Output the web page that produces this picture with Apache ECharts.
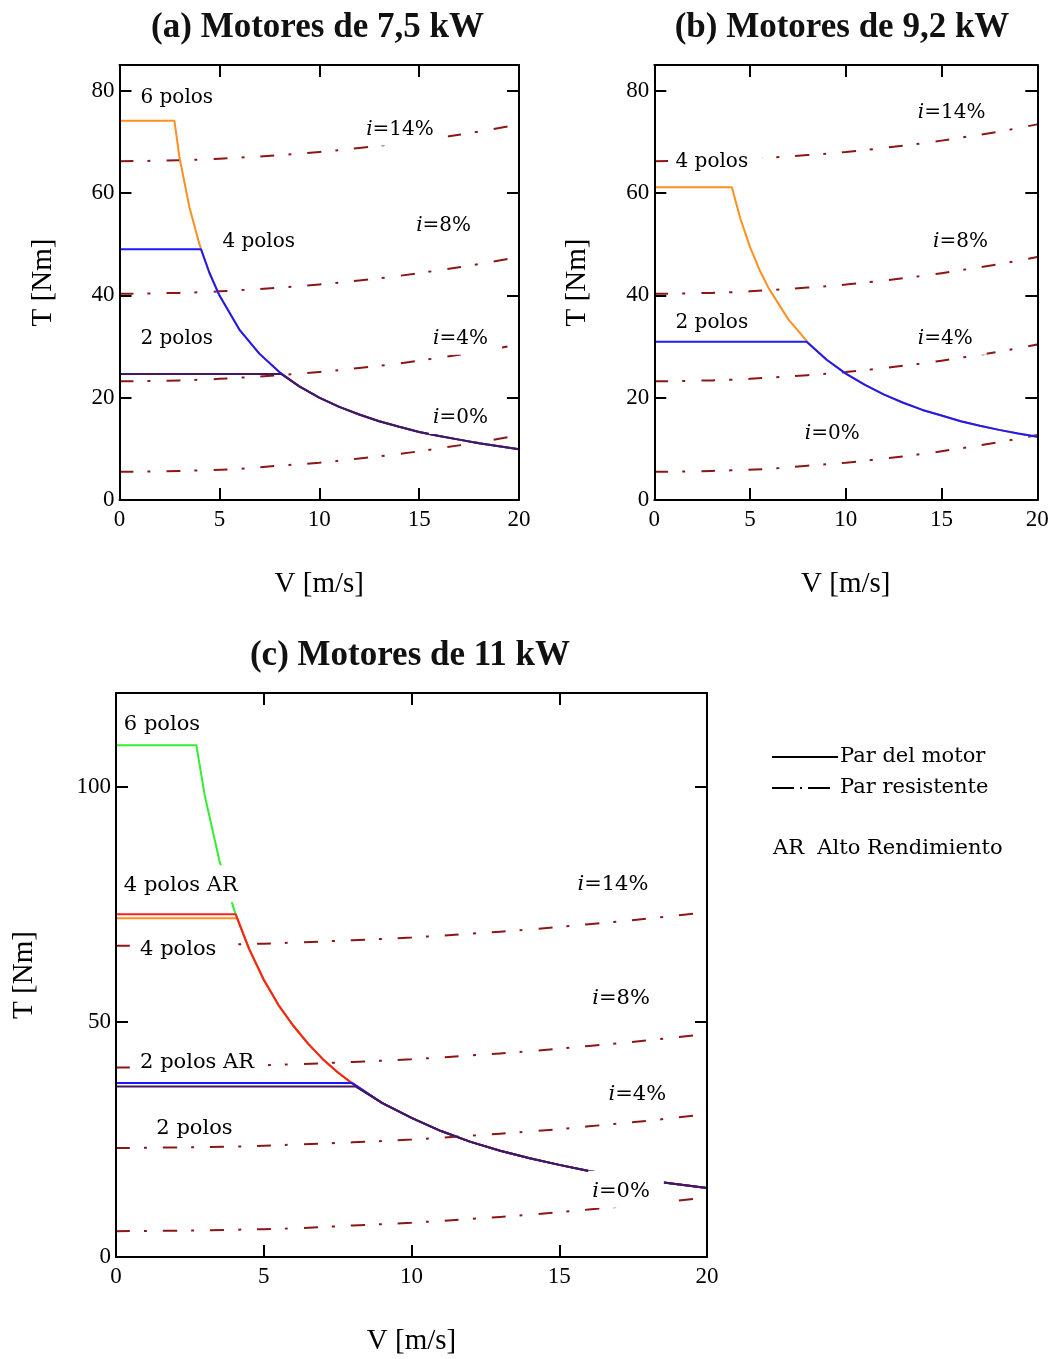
<!DOCTYPE html>
<html><head><meta charset="utf-8">
<script src="https://cdn.jsdelivr.net/npm/echarts@6/dist/echarts.min.js"></script>
<style>html,body{margin:0;padding:0;background:#fff}#c{width:1059px;height:1359px}</style>
</head><body><div id="c"></div>
<script>
// ---------- Resistive torque (Par resistente), same in all panels ----------
const resV   = [0, 2, 4, 6, 8, 10, 12, 14, 16, 18, 20];
const res0   = [5.5, 5.6, 5.8, 6.1, 6.7, 7.3, 8.1, 9.0, 10.1, 11.3, 12.7];
const res4   = [23.2, 23.3, 23.5, 23.9, 24.4, 25.0, 25.8, 26.7, 27.8, 29.0, 30.4];
const res8   = [40.3, 40.4, 40.6, 41.0, 41.5, 42.1, 42.9, 43.8, 44.9, 46.1, 47.5];
const res14  = [66.2, 66.3, 66.5, 66.9, 67.4, 68.0, 68.8, 69.7, 70.8, 72.0, 73.4];

// ---------- (a) 7,5 kW motors ----------
const a6V = [0, 2.75, 3, 3.5, 4, 4.5, 5, 6, 7, 8, 9, 10, 11, 12, 13, 14, 15, 16, 17, 18, 19, 20];
const a6T = [74.1, 74.1, 67, 57.2, 50, 44.4, 40, 33.3, 28.6, 25, 22.2, 20, 18.2, 16.7, 15.4, 14.3, 13.3, 12.5, 11.8, 11.1, 10.5, 9.9];
const a4V = [0, 4.08, 4.5, 5, 6, 7, 8, 9, 10, 11, 12, 13, 14, 15, 16, 17, 18, 19, 20];
const a4T = [49, 49, 44.4, 40, 33.3, 28.6, 25, 22.2, 20, 18.2, 16.7, 15.4, 14.3, 13.3, 12.5, 11.8, 11.1, 10.5, 9.9];
const a2V = [0, 8.1, 9, 10, 11, 12, 13, 14, 15, 16, 17, 18, 19, 20];
const a2T = [24.6, 24.6, 22.2, 20, 18.2, 16.7, 15.4, 14.3, 13.3, 12.5, 11.8, 11.1, 10.5, 9.9];

// ---------- (b) 9,2 kW motors ----------
const b4V = [0, 4.05, 4.5, 5, 5.5, 6, 7, 8, 9, 10, 11, 12, 13, 14, 15, 16, 17, 18, 19, 20];
const b4T = [61.1, 61.1, 54.9, 49.4, 44.9, 41.2, 35.3, 30.9, 27.4, 24.7, 22.5, 20.6, 19, 17.6, 16.5, 15.4, 14.5, 13.7, 13, 12.35];
const b2V = [0, 7.95, 9, 10, 11, 12, 13, 14, 15, 16, 17, 18, 19, 20];
const b2T = [30.9, 30.9, 27.4, 24.7, 22.5, 20.6, 19, 17.6, 16.5, 15.4, 14.5, 13.7, 13, 12.35];

// ---------- (c) 11 kW motors ----------
const c6V   = [0, 2.72, 3, 3.5, 4, 4.5, 5, 5.5, 6, 6.5, 7, 7.5, 8, 9, 10, 11, 12, 13, 14, 15, 16, 17, 18, 19, 20];
const c6T   = [108.9, 108.9, 98.3, 84.3, 73.8, 65.6, 59, 53.6, 49.2, 45.4, 42.1, 39.3, 36.9, 32.8, 29.6, 26.8, 24.5, 22.6, 21, 19.6, 18.3, 17.3, 16.3, 15.5, 14.7];
const c4arV = [0, 4.05, 4.5, 5, 5.5, 6, 6.5, 7, 7.5, 8, 9, 10, 11, 12, 13, 14, 15, 16, 17, 18, 19, 20];
const c4arT = [72.9, 72.9, 65.6, 59, 53.6, 49.2, 45.4, 42.1, 39.3, 36.9, 32.8, 29.6, 26.8, 24.5, 22.6, 21, 19.6, 18.3, 17.3, 16.3, 15.5, 14.7];
const c4V   = [0, 4.1, 4.5, 5, 5.5, 6, 6.5, 7, 7.5, 8, 9, 10, 11, 12, 13, 14, 15, 16, 17, 18, 19, 20];
const c4T   = [72.1, 72.1, 65.6, 59, 53.6, 49.2, 45.4, 42.1, 39.3, 36.9, 32.8, 29.6, 26.8, 24.5, 22.6, 21, 19.6, 18.3, 17.3, 16.3, 15.5, 14.7];
const c2arV = [0, 8.0, 9, 10, 11, 12, 13, 14, 15, 16, 17, 18, 19, 20];
const c2arT = [37, 37, 32.8, 29.6, 26.8, 24.5, 22.6, 21, 19.6, 18.3, 17.3, 16.3, 15.5, 14.7];
const c2V   = [0, 8.1, 9, 10, 11, 12, 13, 14, 15, 16, 17, 18, 19, 20];
const c2T   = [36.3, 36.3, 32.8, 29.6, 26.8, 24.5, 22.6, 21, 19.6, 18.3, 17.3, 16.3, 15.5, 14.7];

// ---------- Annotations (text, anchor V, anchor T) ----------
const labA = ['6 polos', '4 polos', '2 polos', 'i=14%', 'i=8%', 'i=4%', 'i=0%'];
const labAV = [0.85, 4.95, 0.85, 12.15, 14.65, 15.5, 15.5];
const labAT = [78.9, 50.8, 31.9, 72.8, 53.9, 31.9, 16.4];
const labB = ['i=14%', '4 polos', 'i=8%', '2 polos', 'i=4%', 'i=0%'];
const labBV = [13.55, 0.9, 14.35, 0.9, 13.55, 7.65];
const labBT = [76.0, 66.4, 50.8, 35.1, 31.9, 13.3];
const labC = ['6 polos', '4 polos AR', '4 polos', '2 polos AR', '2 polos', 'i=14%', 'i=8%', 'i=4%', 'i=0%'];
const labCV = [0.13, 0.13, 0.68, 0.68, 1.23, 15.48, 15.98, 16.53, 15.98];
const labCT = [113.7, 79.4, 65.8, 41.7, 27.8, 79.6, 55.5, 35.0, 14.4];

const titles = ['(a) Motores de 7,5 kW', '(b) Motores de 9,2 kW', '(c) Motores de 11 kW'];
const yMax = [85, 85, 120];
const yStep = [20, 20, 50];

// ---------- styles ----------
const serif = '"Liberation Serif", "Times New Roman", serif';
const lblFont = '"DejaVu Serif", serif';
const C_OR = '#ff8f1f', C_BL = '#1a1aff', C_PU = '#43195e', C_GR = '#33ee33', C_RD = '#ff2020', C_RES = '#8c1616';

function pairs(xs, ys) { return xs.map((x, i) => [x, ys[i]]); }

const grids = [
  { left: 119.5, top: 65, width: 399.5, height: 435 },
  { left: 654.3, top: 65, width: 383, height: 435 },
  { left: 116, top: 693, width: 591, height: 564 }
];

const xAxes = [], yAxes = [];
grids.forEach((g, gi) => {
  ['bottom', 'top'].forEach(pos => {
    const main = pos === 'bottom';
    xAxes.push({
      type: 'value', gridIndex: gi, position: pos, min: 0, max: 20, interval: 5, z: 5,
      axisLine: { show: true, onZero: false, lineStyle: { color: '#000', width: 2 } },
      axisTick: { show: true, inside: true, length: 12, lineStyle: { color: '#000', width: 2 } },
      axisLabel: { show: main, margin: 8, color: '#000', fontFamily: serif, fontSize: 23 },
      splitLine: { show: false },
      name: main ? 'V [m/s]' : '', nameLocation: 'middle', nameGap: 70,
      nameTextStyle: { fontFamily: serif, fontSize: 29, color: '#000' }
    });
  });
  ['left', 'right'].forEach(pos => {
    const main = pos === 'left';
    yAxes.push({
      type: 'value', gridIndex: gi, position: pos, min: 0, max: yMax[gi], interval: yStep[gi], z: 5,
      axisLine: { show: true, onZero: false, lineStyle: { color: '#000', width: 2 } },
      axisTick: { show: true, inside: true, length: 12, lineStyle: { color: '#000', width: 2 } },
      axisLabel: { show: main, margin: 5, color: '#000', fontFamily: serif, fontSize: 23,
        formatter: v => (v % yStep[gi] === 0 ? String(v) : '') },
      splitLine: { show: false },
      name: main ? 'T [Nm]' : '', nameLocation: 'middle', nameGap: gi === 2 ? 77 : 62,
      nameTextStyle: { fontFamily: serif, fontSize: 29, color: '#000' }
    });
  });
});

const series = [];
function motor(gi, xs, ys, color, name) {
  series.push({ type: 'line', name, xAxisIndex: gi * 2, yAxisIndex: gi * 2, data: pairs(xs, ys),
    showSymbol: false, symbol: 'none', smooth: false, z: 3, clip: true,
    lineStyle: { color, width: 2 } });
}
function resist(gi, ys, name) {
  series.push({ type: 'line', name, xAxisIndex: gi * 2, yAxisIndex: gi * 2, data: pairs(resV, ys),
    showSymbol: false, symbol: 'none', smooth: true, z: 2, clip: true,
    lineStyle: { color: C_RES, width: 2, type: [14, 14, 3, 16] } });
}
function labels(gi, txt, vs, ts, size) {
  series.push({ type: 'scatter', xAxisIndex: gi * 2, yAxisIndex: gi * 2, symbolSize: 0, z: 4, silent: true,
    itemStyle: { opacity: 1 },
    data: txt.map((t, i) => ({ name: t, value: [vs[i], ts[i]] })),
    label: { show: true, position: 'right', distance: 0, color: '#000', opacity: 1,
      fontFamily: lblFont, fontSize: size, backgroundColor: '#fff', padding: [10, 14, 6, 4],
      formatter: p => p.name.startsWith('i=') ? '{it|i}' + p.name.slice(1) : p.name,
      rich: { it: { fontFamily: lblFont, fontStyle: 'italic', fontSize: size, color: '#000' } } } });
}

[0, 1, 2].forEach(gi => {
  resist(gi, res0, 'i=0%'); resist(gi, res4, 'i=4%'); resist(gi, res8, 'i=8%'); resist(gi, res14, 'i=14%');
});
motor(0, a6V, a6T, C_OR, '6 polos'); motor(0, a4V, a4T, C_BL, '4 polos'); motor(0, a2V, a2T, C_PU, '2 polos');
motor(1, b4V, b4T, C_OR, '4 polos'); motor(1, b2V, b2T, C_BL, '2 polos');
motor(2, c6V, c6T, C_GR, '6 polos'); motor(2, c4V, c4T, C_OR, '4 polos'); motor(2, c4arV, c4arT, C_RD, '4 polos AR');
motor(2, c2arV, c2arT, C_BL, '2 polos AR'); motor(2, c2V, c2T, C_PU, '2 polos');
labels(0, labA, labAV, labAT, 20);
labels(1, labB, labBV, labBT, 20);
labels(2, labC, labCV, labCT, 21);

const titleCenters = [[317.5, 10], [842, 10], [410, 638]];
const legFont = '21px "DejaVu Serif", serif';
const option = {
  backgroundColor: '#fff',
  animation: false,
  title: titles.map((t, i) => ({ text: t, left: titleCenters[i][0], top: titleCenters[i][1], textAlign: 'center', padding: 0,
    textStyle: { fontFamily: serif, fontWeight: 'bold', fontSize: 35, color: '#111' } })),
  grid: grids,
  xAxis: xAxes,
  yAxis: yAxes,
  series,
  graphic: [
    { type: 'line', shape: { x1: 772, y1: 757, x2: 838, y2: 757 }, style: { stroke: '#000', lineWidth: 2 } },
    { type: 'text', x: 840, y: 757, style: { text: 'Par del motor', font: legFont, fill: '#000', textVerticalAlign: 'middle' } },
    { type: 'line', shape: { x1: 772, y1: 788, x2: 834, y2: 788 }, style: { stroke: '#000', lineWidth: 2, lineDash: [22, 6, 2, 6] } },
    { type: 'text', x: 840, y: 788, style: { text: 'Par resistente', font: legFont, fill: '#000', textVerticalAlign: 'middle' } },
    { type: 'text', x: 773, y: 849, style: { text: 'AR  Alto Rendimiento', font: legFont, fill: '#000', textVerticalAlign: 'middle' } }
  ]
};
const chart = echarts.init(document.getElementById('c'), null, { renderer: 'canvas' });
chart.setOption(option);
</script>
</body></html>
